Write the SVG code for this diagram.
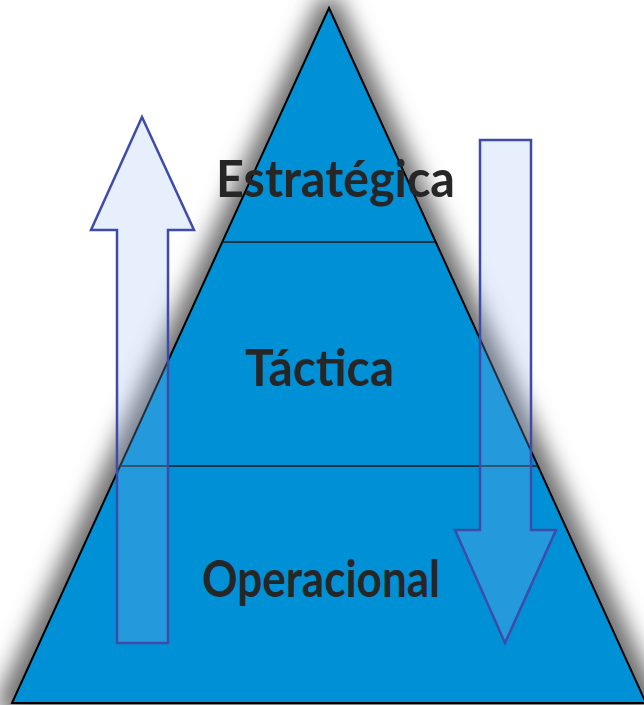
<svg xmlns="http://www.w3.org/2000/svg" width="644" height="705" viewBox="0 0 644 705">
<defs>
<filter id="shadow" x="-20%" y="-20%" width="140%" height="140%">
<feGaussianBlur stdDeviation="11"/>
</filter>
<style>
.lbl{font-family:Lato,"Open Sans","Liberation Sans",sans-serif;font-weight:bold;font-size:52px;fill:#262626;}
.arrow{fill:rgb(150,190,240);fill-opacity:0.24;stroke:#3F4BA8;stroke-width:2.5;stroke-linejoin:miter;}
.div{stroke:#1a1a1a;stroke-width:1.5;}
</style>
</defs>
<rect width="644" height="705" fill="#ffffff"/>
<g id="pyramid">
<polygon points="329,8 10,703 648,703" fill="#6e6e6e" stroke="#6e6e6e" stroke-width="26" stroke-linejoin="round" filter="url(#shadow)"/>
<polygon points="329,8 12,703 646,703" fill="#0090D6" stroke="#000000" stroke-width="2"/>
<line class="div" x1="222" y1="242" x2="436" y2="242"/>
<line class="div" x1="120" y1="466" x2="538" y2="466"/>
</g>
<g id="level-estrategica"><text class="lbl" x="216" y="197" textLength="239" lengthAdjust="spacingAndGlyphs">Estratégica</text></g>
<g id="level-tactica"><text class="lbl" x="245" y="386" textLength="149" lengthAdjust="spacingAndGlyphs">Táctica</text></g>
<g id="level-operacional"><text class="lbl" x="202" y="597" textLength="238" lengthAdjust="spacingAndGlyphs">Operacional</text></g>
<g id="connectors">
<polygon id="arrow-up" class="arrow" points="142,117 194,230 168,230 168,643 117,643 117,230 91,230"/>
<polygon id="arrow-down" class="arrow" points="480,140 531,140 531,530 556,530 505,643 455,530 480,530"/>
</g>
</svg>
